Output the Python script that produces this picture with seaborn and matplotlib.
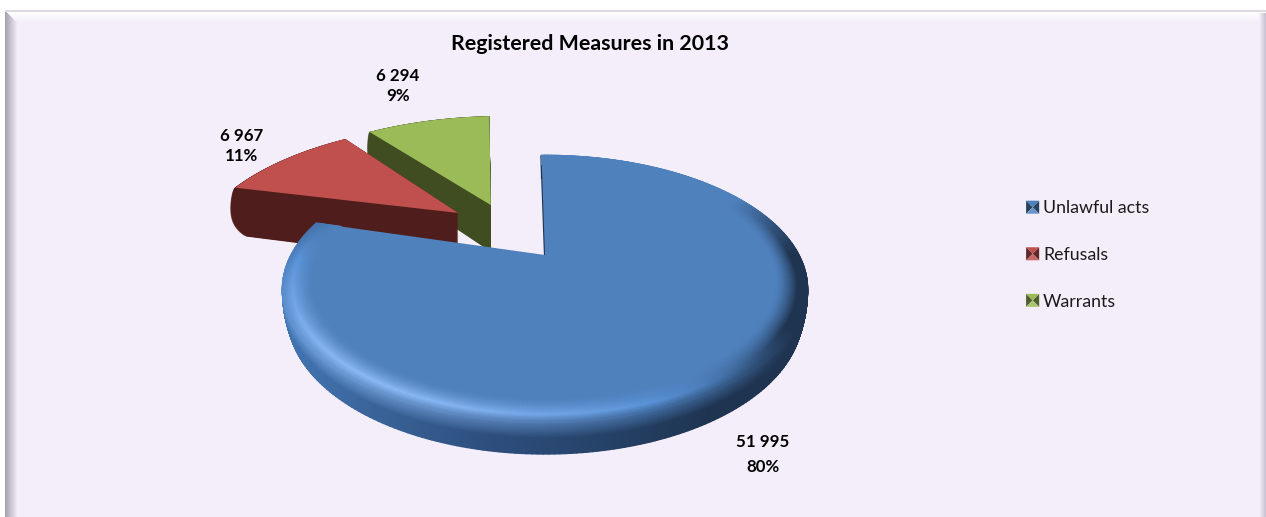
import numpy as np
import matplotlib
matplotlib.use("Agg")
import matplotlib.pyplot as plt
import seaborn as sns
from matplotlib.path import Path
from matplotlib.patches import Polygon
from matplotlib.collections import PolyCollection
from matplotlib.colors import to_rgb
from matplotlib.legend_handler import HandlerBase
from matplotlib.lines import Line2D

CATEGORIES = ["Unlawful acts", "Refusals", "Warrants"]
VALUES = [51995, 6967, 6294]
VALUE_LABELS = ["51 995", "6 967", "6 294"]
PERCENT_LABELS = ["80%", "11%", "9%"]
TITLE = "Registered Measures in 2013"

FACE = ["#4F81BD", "#C0504D", "#9BBB59"]
SIDE = ["#1F3450", "#4F1D1B", "#3F4D21"]
EXPLODE = [0, 0.52, 0.50]
NUDGE = [(0, 0), (0.052, 0.069), (-0.08, -0.03)]
SCALE = [1.0, 1.07, 1.105]
ROTATE = [0.0, 2.0, 2.5]
DEPTH = [27, 55, 52]
LABEL_POS = [(763, 454.5, 1.65), (242, 146, 1.38), (398, 86, 1.38)]

W, H = 1266, 517
CX, CY, C, K, B = 545, 255, 254, 125, 0.254

sns.set_theme(style="white")
plt.rcParams["font.family"] = ["Lato", "DejaVu Sans"]


def proj(x, y, z=0.0):
    den = 1 + B * y
    return CX + C * x / den, CY - K * y / den + z / den


def mix(a, b, t):
    a, b = np.asarray(a), np.asarray(b)
    return a + (b - a) * np.clip(t, 0, 1)


def interp_color(v, knots, cols):
    arr = np.array([to_rgb(c) for c in cols])
    return np.array([np.interp(v, knots, arr[:, i]) for i in range(3)])


def background():
    bg = np.array(to_rgb("#F4EEFB"))
    xx, yy = np.meshgrid(np.arange(W), np.arange(H))
    top = np.clip((yy - 12) / 10.0, 0, 1)[..., None]
    img = (1 - top) * np.ones(3) + top * bg
    left = np.clip((xx - 5) / 12.0, 0, 1)[..., None]
    gray = np.array(to_rgb("#A5A3AD"))
    leftcol = gray + (bg - gray) * left
    mask = ((xx - 5) < (yy - 10)) & (xx < 17)
    img[mask] = leftcol[mask]
    right = np.clip((xx - 1259) / 6.0, 0, 1)[..., None]
    rc = bg + (np.array(to_rgb("#C9C2D2")) - bg) * right
    m2 = (xx >= 1259) & (yy > 12)
    img[m2] = rc[m2]
    img[(yy >= 10) & (yy < 12) & (xx >= 5)] = to_rgb("#DDD9E2")
    img[yy < 10] = 1.0
    img[xx < 5] = 1.0
    return img


fig = plt.figure(figsize=(W / 100, H / 100), dpi=100)
bgax = fig.add_axes([0, 0, 1, 1])
bgax.imshow(background(), aspect="auto", interpolation="nearest")
bgax.axis("off")

ax = fig.add_axes([0, 0, 1, 1], facecolor="none")
wedges, _ = ax.pie(VALUES, colors=FACE, startangle=91, counterclock=False,
                   explode=EXPLODE, radius=1, wedgeprops=dict(linewidth=0))
ax.set_aspect("auto")
ax.set_xlim(0, W)
ax.set_ylim(H, 0)
ax.set_axis_off()


def wedge_pts(i, scale=1.0, z=0.0):
    w = wedges[i]
    th = np.radians(np.linspace(w.theta1, w.theta2, 240) + ROTATE[i])
    cx, cy = w.center[0] + NUDGE[i][0], w.center[1] + NUDGE[i][1]
    r = w.r * scale * SCALE[i]
    X, Y = proj(np.r_[cx, cx + r * np.cos(th)], np.r_[cy, cy + r * np.sin(th)], z)
    return np.column_stack([X, Y])


Z = {2: 2, 1: 4, 0: 6}
for i, w in enumerate(wedges):
    w._path = Path(wedge_pts(i))
    w.set_zorder(Z[i] + 1)

# extruded sides of the two exploded slices
for i in (2, 1):
    for t in np.linspace(1, 0, 110):
        sc = 1 + 0.025 * np.sin(np.pi * t) ** 0.5 - 0.05 * t ** 6
        ax.add_patch(Polygon(wedge_pts(i, sc, DEPTH[i] * t), closed=True,
                             fc=SIDE[i], ec="none", zorder=Z[i]))

# rim and bevel of the main slice
w = wedges[0]
ths = np.linspace(w.theta1, w.theta2, 300)
tr = np.radians(ths)
LK = [-1, -0.5, -0.05, 0.4, 0.6, 0.85, 1]
LC = ["#1C2F4A", "#1F3450", "#1F3450", "#4A7BB6", "#5B95DA", "#76A8E8", "#8AB9F5"]
SK = [-1, -0.1, 0.3, 0.6, 0.85, 1]
SC = ["#1F3450", "#1F3450", "#26436A", "#2E5080", "#3A6499", "#4173B0"]
base = np.array(to_rgb(FACE[0]))
R0 = 0.885
PEAK = 0.68
side_polys, side_cols, bev_polys, bev_cols = [], [], [], []
ts = np.linspace(0, 1, 21)
rs = np.linspace(R0, 1.0, 29)
for a0, a1, deg in zip(tr[:-1], tr[1:], ths[:-1]):
    l = np.cos(np.radians(deg - 235))
    l2 = np.cos(np.radians(deg - 205))
    strength = np.clip((0.5 - np.sin(np.radians(deg))) / 0.5, 0, 1)
    bc = mix(base, interp_color(l, LK, LC), strength)
    sc = interp_color(l2, SK, SC)
    mid = mix(bc, sc, 0.5 * strength)
    for t0, t1 in zip(ts[:-1], ts[1:]):
        r0_, r1_ = 1 - 0.02 * t0 ** 2, 1 - 0.02 * t1 ** 2
        p = [proj(r0_ * np.cos(a0), r0_ * np.sin(a0), DEPTH[0] * t0),
             proj(r0_ * np.cos(a1), r0_ * np.sin(a1), DEPTH[0] * t0),
             proj(r1_ * np.cos(a1), r1_ * np.sin(a1), DEPTH[0] * t1),
             proj(r1_ * np.cos(a0), r1_ * np.sin(a0), DEPTH[0] * t1)]
        side_polys.append(p)
        side_cols.append(mix(mid, sc, t0 / 0.45))
    for r0, r1 in zip(rs[:-1], rs[1:]):
        p = [proj(r0 * np.cos(a0), r0 * np.sin(a0)), proj(r0 * np.cos(a1), r0 * np.sin(a1)),
             proj(r1 * np.cos(a1), r1 * np.sin(a1)), proj(r1 * np.cos(a0), r1 * np.sin(a0))]
        bev_polys.append(p)
        s = (r0 - R0) / (1 - R0)
        if s < PEAK:
            bev_cols.append(mix(base, bc, (s / PEAK) ** 1.5))
        else:
            bev_cols.append(mix(bc, mid, (s - PEAK) / (1 - PEAK)))
ax.add_collection(PolyCollection(side_polys, facecolors=side_cols, edgecolors=side_cols,
                                 linewidths=0.9, zorder=6))
ax.add_collection(PolyCollection(bev_polys, facecolors=bev_cols, edgecolors=bev_cols,
                                 linewidths=0.9, zorder=8))
a = np.radians(w.theta2)
ex, ey = proj(np.array([0, np.cos(a)]), np.array([0, np.sin(a)]))
ax.plot(ex, ey, color=SIDE[0], lw=1.6, zorder=6.5, solid_capstyle="butt")
ax.set_xlim(0, W)
ax.set_ylim(H, 0)

# labels
for val, pct, (x, y, ls) in zip(VALUE_LABELS, PERCENT_LABELS, LABEL_POS):
    ax.text(x, y, f"{val}\n{pct}", ha="center", va="center", fontsize=12.2, fontweight="bold",
            color="black", linespacing=ls, zorder=10)
ax.text(590, 43.5, TITLE, ha="center", va="center", fontsize=15.4, fontweight="bold",
        color="black", zorder=10)


class BevelHandler(HandlerBase):
    def __init__(self, color):
        super().__init__()
        self.color = color

    def create_artists(self, legend, orig, xd, yd, width, height, fontsize, trans):
        c = np.array(to_rgb(self.color))
        dark = c * 0.5
        light = mix(c, [1, 1, 1], 0.15)
        s = 9.4
        x0, y0 = -xd, -yd + (height - s) / 2
        x1, y1 = x0 + s, y0 + s
        mx, my = (x0 + x1) / 2, (y0 + y1) / 2
        tris = [([(x0, y0), (x0, y1), (mx, my)], dark), ([(x1, y0), (x1, y1), (mx, my)], dark),
                ([(x0, y1), (x1, y1), (mx, my)], c), ([(x0, y0), (x1, y0), (mx, my)], light)]
        return [Polygon(p, closed=True, fc=col, ec="none", transform=trans) for p, col in tris]


handles = [Line2D([], [], label=c) for c in CATEGORIES]
hmap = {h: BevelHandler(col) for h, col in zip(handles, FACE)}
leg = ax.legend(handles=handles, handler_map=hmap, loc="center left",
                bbox_to_anchor=(1019 / W, 1 - 255 / H), bbox_transform=fig.transFigure,
                frameon=False, fontsize=12.8, labelspacing=1.72, handlelength=0.75,
                handletextpad=0.2, borderpad=0, borderaxespad=0.4)
for t in leg.get_texts():
    t.set_color("#1A1A1A")

fig.savefig("out.png", dpi=100)
